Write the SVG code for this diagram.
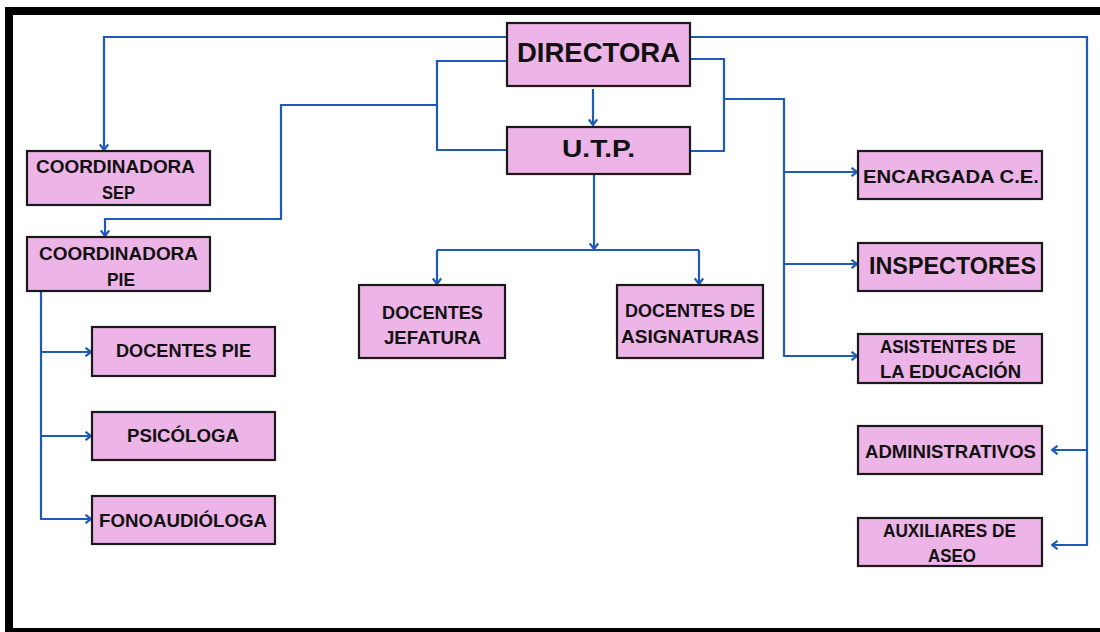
<svg xmlns="http://www.w3.org/2000/svg" width="1100" height="632" viewBox="0 0 1100 632">
<style>
.box{fill:#EDB4E7;stroke:#1a1a1a;stroke-width:2.2}
.t{font-family:"Liberation Sans",Arial,sans-serif;font-weight:bold;font-size:19px;fill:#111}
.big{font-size:28px}
.mid{font-size:24px}
.c{fill:none;stroke:#1E5BB8;stroke-width:2.2}
</style>
<defs>
<marker id="arr" viewBox="0 0 10 10" markerWidth="10" markerHeight="10" refX="8.5" refY="5" orient="auto" markerUnits="userSpaceOnUse">
<path d="M3,0.8 L8.5,5 L3,9.2" fill="none" stroke="#1E5BB8" stroke-width="2.2"/>
</marker>
</defs>
<rect x="0" y="0" width="1100" height="632" fill="#fff"/>
<rect x="9" y="11" width="1100" height="621" fill="none" stroke="#000" stroke-width="8"/>
<g id="connectors">
<path class="c" d="M508,37 H104 V150" marker-end="url(#arr)"/>
<path class="c" d="M508,61 H437 V150 H508"/>
<path class="c" d="M437,105 H281 V219 H105 V236" marker-end="url(#arr)"/>
<path class="c" d="M593,89 V125" marker-end="url(#arr)"/>
<path class="c" d="M594,175 V249" marker-end="url(#arr)"/>
<path class="c" d="M437,250 H699"/>
<path class="c" d="M437,250 V284" marker-end="url(#arr)"/>
<path class="c" d="M699,250 V284" marker-end="url(#arr)"/>
<path class="c" d="M690,37 H1087 V545 H1052" marker-end="url(#arr)"/>
<path class="c" d="M1087,450 H1052" marker-end="url(#arr)"/>
<path class="c" d="M690,59 H724 V151 H690"/>
<path class="c" d="M724,99 H784 V356 H857" marker-end="url(#arr)"/>
<path class="c" d="M784,172 H857" marker-end="url(#arr)"/>
<path class="c" d="M784,264 H857" marker-end="url(#arr)"/>
<path class="c" d="M41,291 V519 H91" marker-end="url(#arr)"/>
<path class="c" d="M41,352 H91" marker-end="url(#arr)"/>
<path class="c" d="M41,436 H91" marker-end="url(#arr)"/>
</g>
<g id="directora"><rect class="box" x="507" y="23" width="183" height="63"/><text class="t big" x="517" y="62" textLength="163" lengthAdjust="spacingAndGlyphs">DIRECTORA</text></g>
<g id="utp"><rect class="box" x="507" y="127" width="183" height="47"/><text class="t mid" x="562" y="157" textLength="73" lengthAdjust="spacingAndGlyphs">U.T.P.</text></g>
<g id="coord-sep"><rect class="box" x="27" y="151" width="183" height="54"/><text class="t" x="36" y="173" textLength="159" lengthAdjust="spacingAndGlyphs">COORDINADORA</text><text class="t" x="102" y="199" textLength="33" lengthAdjust="spacingAndGlyphs">SEP</text></g>
<g id="coord-pie"><rect class="box" x="27" y="237" width="183" height="54"/><text class="t" x="39" y="260" textLength="159" lengthAdjust="spacingAndGlyphs">COORDINADORA</text><text class="t" x="107" y="286" textLength="28" lengthAdjust="spacingAndGlyphs">PIE</text></g>
<g id="docentes-jefatura"><rect class="box" x="359" y="285" width="146" height="73"/><text class="t" x="382" y="319" textLength="101" lengthAdjust="spacingAndGlyphs">DOCENTES</text><text class="t" x="384" y="344" textLength="97" lengthAdjust="spacingAndGlyphs">JEFATURA</text></g>
<g id="docentes-asignaturas"><rect class="box" x="617" y="285" width="146" height="73"/><text class="t" x="625" y="317" textLength="130" lengthAdjust="spacingAndGlyphs">DOCENTES DE</text><text class="t" x="621" y="343" textLength="138" lengthAdjust="spacingAndGlyphs">ASIGNATURAS</text></g>
<g id="encargada"><rect class="box" x="858" y="151" width="184" height="48"/><text class="t" x="863" y="183" textLength="176" lengthAdjust="spacingAndGlyphs">ENCARGADA C.E.</text></g>
<g id="inspectores"><rect class="box" x="858" y="243" width="184" height="48"/><text class="t mid" x="869" y="274" textLength="167" lengthAdjust="spacingAndGlyphs">INSPECTORES</text></g>
<g id="asistentes"><rect class="box" x="858" y="334" width="184" height="49"/><text class="t" x="880" y="353" textLength="136" lengthAdjust="spacingAndGlyphs">ASISTENTES DE</text><text class="t" x="880" y="378" textLength="141" lengthAdjust="spacingAndGlyphs">LA EDUCACIÓN</text></g>
<g id="administrativos"><rect class="box" x="858" y="426" width="184" height="48"/><text class="t" x="865" y="458" textLength="171" lengthAdjust="spacingAndGlyphs">ADMINISTRATIVOS</text></g>
<g id="auxiliares"><rect class="box" x="858" y="518" width="184" height="48"/><text class="t" x="883" y="537" textLength="133" lengthAdjust="spacingAndGlyphs">AUXILIARES DE</text><text class="t" x="928" y="562" textLength="48" lengthAdjust="spacingAndGlyphs">ASEO</text></g>
<g id="docentes-pie"><rect class="box" x="92" y="327" width="183" height="49"/><text class="t" x="116" y="357" textLength="135" lengthAdjust="spacingAndGlyphs">DOCENTES PIE</text></g>
<g id="psicologa"><rect class="box" x="92" y="412" width="183" height="48"/><text class="t" x="127" y="442" textLength="112" lengthAdjust="spacingAndGlyphs">PSICÓLOGA</text></g>
<g id="fonoaudiologa"><rect class="box" x="92" y="496" width="183" height="48"/><text class="t" x="99" y="527" textLength="168" lengthAdjust="spacingAndGlyphs">FONOAUDIÓLOGA</text></g>
</svg>
